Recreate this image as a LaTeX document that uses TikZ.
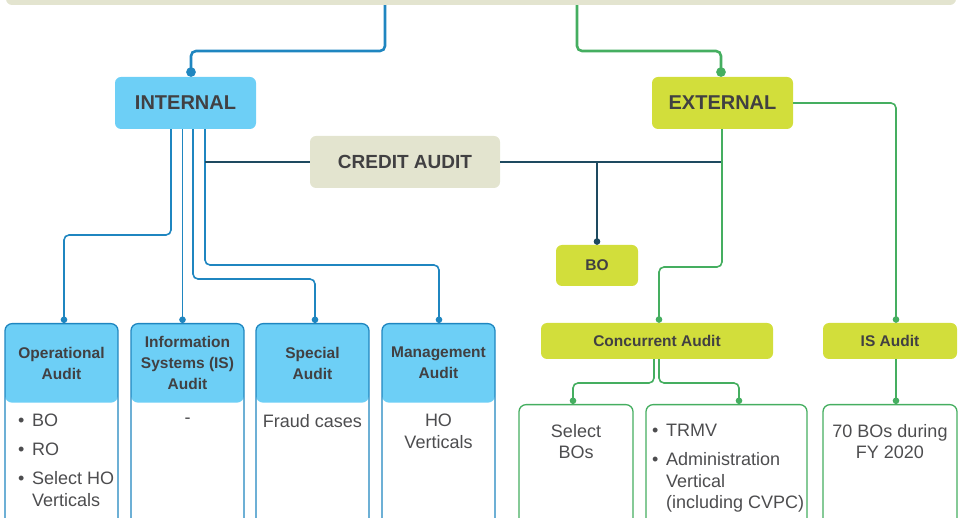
\documentclass[tikz,border=0pt]{standalone}
\usepackage{fontspec}
\setmainfont{Liberation Sans}
\usepackage{tikz}
\usetikzlibrary{arrows.meta}
\usetikzlibrary{positioning}

\definecolor{auditblue}{HTML}{6DCFF6}
\definecolor{auditlime}{HTML}{D2DE3B}
\definecolor{auditbeige}{HTML}{E3E4CF}
\definecolor{wireblue}{HTML}{1F86C0}
\definecolor{wiregreen}{HTML}{45AE60}
\definecolor{wiredark}{HTML}{1E4A60}
\definecolor{textgray}{HTML}{414042}
\definecolor{bodygray}{HTML}{4D4D4F}

\tikzset{
  box/.style={rounded corners=6pt, inner sep=0pt, text=textgray, align=center},
  bigbox/.style={box, font=\fontsize{20}{24}\selectfont\bfseries},
  smallbox/.style={box, fill=auditlime, font=\fontsize{15.5}{21}\selectfont\bfseries},
  bluecard/.style={draw=wireblue, line width=1.3pt, fill=white, rounded corners=7pt,
    minimum height=230pt, anchor=north,
    path picture={\fill[auditblue] (path picture bounding box.north west)
      rectangle ([yshift=-79pt]path picture bounding box.north east);}},
  greencard/.style={draw=wiregreen, line width=1.3pt, fill=white, rounded corners=7pt,
    minimum height=140pt, anchor=north},
  headtext/.style={text=textgray, align=center, inner sep=0pt, font=\fontsize{15.5}{21}\selectfont\bfseries},
  bodytext/.style={text=bodygray, align=center, inner sep=0pt, font=\fontsize{18}{21.5}\selectfont},
  mainwire/.style={line width=2.6pt, rounded corners=5pt, -{Circle[length=9.5pt]}},
  wire/.style={line width=1.6pt, rounded corners=5pt},
  dotwire/.style={wire, -{Circle[length=6.5pt]}},
}
\newcommand{\bul}{\makebox[14pt][l]{•}}

\begin{document}
\begin{tikzpicture}[x=1pt, y=-1pt]
  \useasboundingbox (0,0) rectangle (962,518);
  \clip (0,0) rectangle (962,518);

  \node[box, fill=auditbeige, minimum width=950pt, minimum height=60pt] (audit) at (481,-25) {};
  \node[bigbox, fill=auditblue, minimum width=141pt, minimum height=52pt] (internal) at (185.5,103) {INTERNAL};
  \node[bigbox, fill=auditlime, minimum width=141pt, minimum height=52pt] (external) at (722.5,103) {EXTERNAL};
  \node[bigbox, fill=auditbeige, minimum width=190pt, minimum height=52pt,
    font=\fontsize{19}{24}\selectfont\bfseries] (credit) at (405,162) {CREDIT AUDIT};
  \node[smallbox, minimum width=82pt, minimum height=41pt] (bo) at (597,265.5) {BO};
  \node[smallbox, minimum width=232pt, minimum height=36pt] (concurrent) at (657,341) {Concurrent Audit};
  \node[smallbox, minimum width=134pt, minimum height=36pt] (isaudit) at (890,341) {IS Audit};

  % internal audit cards
  \node[bluecard, minimum width=113pt] (opcard) at (61.5,323) {};
  \node[bluecard, minimum width=113pt] (infocard) at (187.5,323) {};
  \node[bluecard, minimum width=113pt] (speccard) at (312.5,323) {};
  \node[bluecard, minimum width=113pt] (mgmtcard) at (438.5,323) {};
  \node[headtext] (ophead) at (61.5,363) {Operational\\Audit};
  \node[headtext] (infohead) at (187.5,363) {Information\\Systems (IS)\\Audit};
  \node[headtext] (spechead) at (312.5,363) {Special\\Audit};
  \node[headtext] (mgmthead) at (438.5,363) {Management\\Audit};
  \node[bodytext, align=left, anchor=north west] (oplist) at (18,414)
    {\bul BO\\[7.5pt]\bul RO\\[7.5pt]\bul Select HO\\\hspace*{14pt}Verticals};
  \node[bodytext] (infotext) at (187.5,421) {-};
  \node[bodytext, anchor=north] (spectext) at (312.5,414) {Fraud cases};
  \node[bodytext, anchor=north] (mgmttext) at (438.5,414) {HO\\Verticals};

  % external audit cards
  \node[greencard, minimum width=114pt] (selbo) at (576,404) {};
  \node[greencard, minimum width=161pt] (trmv) at (726.5,404) {};
  \node[greencard, minimum width=134pt] (seventy) at (890,404) {};
  \node[bodytext, anchor=north] (selbotext) at (576,424) {Select\\BOs};
  \node[bodytext, align=left, anchor=north west] (trmvlist) at (652,424)
    {\bul TRMV\\[7.5pt]\bul Administration\\\hspace*{14pt}Vertical\\\hspace*{14pt}(including CVPC)};
  \node[bodytext, anchor=north] (seventytext) at (890,424) {70 BOs during\\FY 2020};

  % connectors
  \draw[mainwire, wireblue] (audit.south -| 385,0) |- (191,51) -- (internal.north -| 191,0);
  \draw[mainwire, wiregreen] (audit.south -| 577,0) |- (721,51) -- (external.north -| 721,0);

  \draw[dotwire, wireblue] (internal.south -| 171,0) |- (64,235) -- (opcard.north -| 64,0);
  \draw[dotwire, wireblue] (internal.south -| 182.5,0) -- (infocard.north -| 182.5,0);
  \draw[dotwire, wireblue] (internal.south -| 193,0) |- (315,279) -- (speccard.north -| 315,0);
  \draw[dotwire, wireblue] (internal.south -| 205,0) |- (439,265) -- (mgmtcard.north -| 439,0);

  \draw[wire, wiredark, line width=1.8pt] (credit.west) -- (credit.west -| 205,0);
  \draw[wire, wiredark, line width=1.8pt] (credit.east) -- (credit.east -| 722,0);
  \draw[dotwire, wiredark] (credit.east -| 597,0) -- (bo.north);

  \draw[dotwire, wiregreen] (external.south -| 722,0) |- (659,267) -- (concurrent.north -| 659,0);
  \draw[dotwire, wiregreen] (external.east) -| (isaudit.north -| 896,0);
  \draw[dotwire, wiregreen] (concurrent.south -| 654,0) |- (573,383) -- (selbo.north -| 573,0);
  \draw[dotwire, wiregreen] (concurrent.south -| 659,0) |- (739,383) -- (trmv.north -| 739,0);
  \draw[dotwire, wiregreen] (isaudit.south -| 896,0) -- (seventy.north -| 896,0);
\end{tikzpicture}
\end{document}
